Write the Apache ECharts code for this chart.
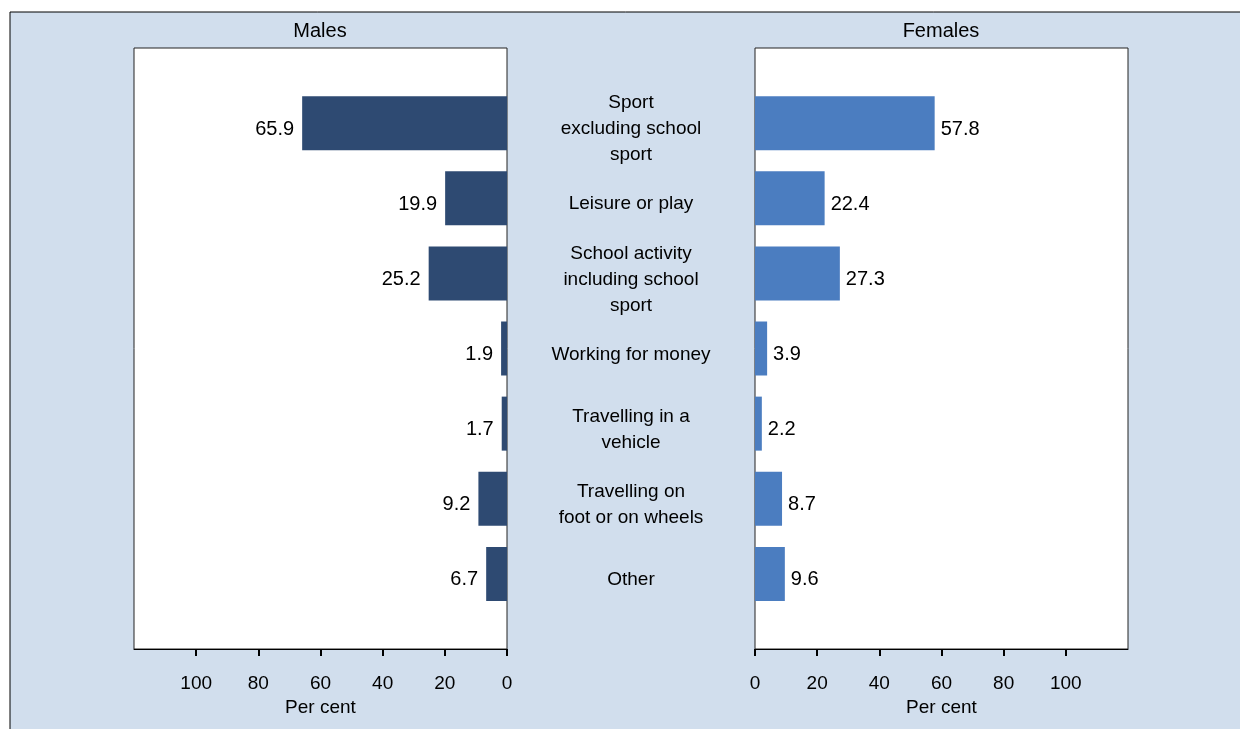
<!DOCTYPE html>
<html>
<head>
    <meta charset="utf-8">
    <title>Males and females</title>
    <script src="https://cdn.jsdelivr.net/npm/echarts@6/dist/echarts.min.js"></script>
    <style>
        html, body { margin: 0; padding: 0; background: #fff; }
        #chart1 { width: 1240px; height: 729px; }
    </style>
</head>
<body>
<div id="chart1"></div>
<script type="text/javascript">
    // 数据
    var categories = ['Sport\nexcluding school\nsport', 'Leisure or play', 'School activity\nincluding school\nsport',
        'Working for money', 'Travelling in a\nvehicle', 'Travelling on\nfoot or on wheels', 'Other'];
    var males = [65.9, 19.9, 25.2, 1.9, 1.7, 9.2, 6.7];
    var females = [57.8, 22.4, 27.3, 3.9, 2.2, 8.7, 9.6];
    var tickValues = [0, 20, 40, 60, 80, 100];

    // one empty slot above and below the categories
    var cats = [''].concat(categories, ['']);
    var maleData = [null].concat(males, [null]);
    var femaleData = [null].concat(females, [null]);

    var font = 'Liberation Sans, Arial, sans-serif';
    var myChart1 = echarts.init(document.getElementById('chart1'));

    function xAxisFor(idx, inverse) {
        return {
            gridIndex: idx,
            type: 'value',
            min: 0, max: 120, interval: 20,
            inverse: inverse,
            name: 'Per cent',
            nameLocation: 'middle',
            nameGap: 46,
            nameTextStyle: { color: '#000', fontSize: 19, fontFamily: font },
            splitLine: { show: false },
            axisLine: { show: true, lineStyle: { color: '#000', width: 1 } },
            axisTick: { show: true, length: 7, lineStyle: { color: '#000', width: 2 }, customValues: tickValues },
            axisLabel: { color: '#000', fontSize: 19, fontFamily: font, margin: 25, customValues: tickValues }
        };
    }

    function yAxisFor(idx, pos, showLabel) {
        return {
            gridIndex: idx,
            type: 'category',
            data: cats,
            inverse: true,
            boundaryGap: false,
            position: pos,
            axisLine: { show: false },
            axisTick: { show: false },
            splitLine: { show: false },
            axisLabel: {
                show: showLabel,
                align: 'center',
                margin: 124,
                color: '#000',
                fontSize: 19,
                lineHeight: 26,
                fontFamily: font
            }
        };
    }

    myChart1.setOption({
        animation: false,
        backgroundColor: '#fff',
        graphic: [
            {
                type: 'rect', z: -10, silent: true,
                shape: { x: 10, y: 12, width: 1300, height: 800 },
                style: { fill: '#d1deed', stroke: '#000', lineWidth: 1 }
            },
            {
                type: 'text', x: 320, y: 31,
                style: { text: 'Males', fill: '#000', font: '20px ' + font, textAlign: 'center', textVerticalAlign: 'middle' }
            },
            {
                type: 'text', x: 941, y: 31,
                style: { text: 'Females', fill: '#000', font: '20px ' + font, textAlign: 'center', textVerticalAlign: 'middle' }
            }
        ],
        grid: [
            { left: 134, top: 48, width: 373, bottom: 80, show: true, backgroundColor: '#fff', borderColor: '#222', borderWidth: 1 },
            { left: 755, top: 48, width: 373, bottom: 80, show: true, backgroundColor: '#fff', borderColor: '#222', borderWidth: 1 },
            // label-only grid, a few pixels lower so the centre text sits like the reference
            { left: 755, top: 54, width: 373, bottom: 74, show: false }
        ],
        xAxis: [xAxisFor(0, true), xAxisFor(1, false),
            { gridIndex: 2, type: 'value', min: 0, max: 120, show: false }],
        yAxis: [yAxisFor(0, 'right', false), yAxisFor(1, 'left', false), yAxisFor(2, 'left', true)],
        series: [
            {
                name: 'Males', type: 'bar', xAxisIndex: 0, yAxisIndex: 0,
                data: maleData, barWidth: 54,
                itemStyle: { color: '#2e4a72' },
                label: { show: true, position: 'left', distance: 8, offset: [0, 6], color: '#000', fontSize: 20, fontFamily: font,
                    formatter: function (p) { return p.value.toFixed(1); } }
            },
            {
                name: 'Females', type: 'bar', xAxisIndex: 1, yAxisIndex: 1,
                data: femaleData, barWidth: 54,
                itemStyle: { color: '#4b7dc0' },
                label: { show: true, position: 'right', distance: 6, offset: [0, 6], color: '#000', fontSize: 20, fontFamily: font,
                    formatter: function (p) { return p.value.toFixed(1); } }
            }
        ]
    });
</script>
</body>
</html>
